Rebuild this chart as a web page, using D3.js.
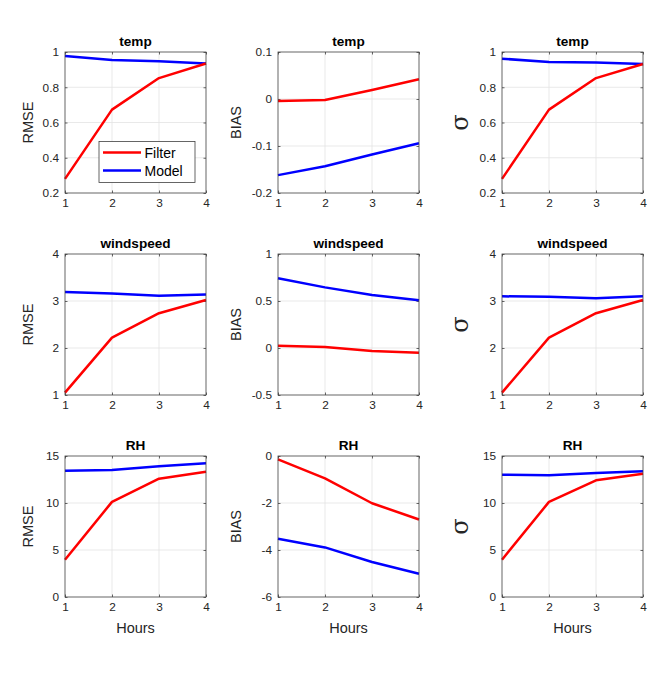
<!DOCTYPE html>
<html>
<head>
	<meta charset="utf-8">
	<title>Filter vs Model</title>
	<script src="https://cdn.jsdelivr.net/npm/d3@7"></script>
	<style>
		html, body { margin: 0; padding: 0; background: #fff; }
		svg { display: block; font-family: "Liberation Sans", Arial, Helvetica, sans-serif; }
		.tick text { fill: #262626; font-size: 11.8px; font-family: "Liberation Sans", Arial, Helvetica, sans-serif; }
		.domain { stroke: none; }
		.tick line { stroke: #404040; stroke-width: 0.8; }
	</style>
</head>
<body>
<svg id="chart" width="664" height="673"></svg>
<script>
	// ---- data ----
	var hours = [1, 2, 3, 4];
	var variables = ["temp", "windspeed", "RH"];
	var metrics = ["RMSE", "BIAS", "σ"];
	var seriesNames = ["Filter", "Model"];

	var tempRmseFilter = [0.28, 0.673, 0.852, 0.935];
	var tempRmseModel = [0.977, 0.955, 0.947, 0.935];
	var tempBiasFilter = [-0.004, -0.002, 0.019, 0.042];
	var tempBiasModel = [-0.162, -0.143, -0.118, -0.094];
	var tempSigmaFilter = [0.28, 0.673, 0.852, 0.932];
	var tempSigmaModel = [0.962, 0.943, 0.941, 0.932];

	var windRmseFilter = [1.05, 2.22, 2.74, 3.02];
	var windRmseModel = [3.19, 3.16, 3.11, 3.14];
	var windBiasFilter = [0.025, 0.011, -0.032, -0.05];
	var windBiasModel = [0.741, 0.645, 0.564, 0.507];
	var windSigmaFilter = [1.05, 2.22, 2.74, 3.02];
	var windSigmaModel = [3.10, 3.09, 3.06, 3.10];

	var rhRmseFilter = [3.97, 10.12, 12.59, 13.33];
	var rhRmseModel = [13.44, 13.51, 13.9, 14.22];
	var rhBiasFilter = [-0.14, -0.95, -2.01, -2.70];
	var rhBiasModel = [-3.52, -3.89, -4.51, -5.01];
	var rhSigmaFilter = [3.97, 10.12, 12.41, 13.12];
	var rhSigmaModel = [13.01, 12.94, 13.19, 13.37];

	var xTicks = [1, 2, 3, 4];
	var tempRmseTicks = [0.2, 0.4, 0.6, 0.8, 1];
	var tempBiasTicks = [-0.2, -0.1, 0, 0.1];
	var windRmseTicks = [1, 2, 3, 4];
	var windBiasTicks = [-0.5, 0, 0.5, 1];
	var rhRmseTicks = [0, 5, 10, 15];
	var rhBiasTicks = [-6, -4, -2, 0];

	// rows = variables, columns = metrics
	var panels = [
		[
			{ filter: tempRmseFilter, model: tempRmseModel, ticks: tempRmseTicks },
			{ filter: tempBiasFilter, model: tempBiasModel, ticks: tempBiasTicks },
			{ filter: tempSigmaFilter, model: tempSigmaModel, ticks: tempRmseTicks }
		],
		[
			{ filter: windRmseFilter, model: windRmseModel, ticks: windRmseTicks },
			{ filter: windBiasFilter, model: windBiasModel, ticks: windBiasTicks },
			{ filter: windSigmaFilter, model: windSigmaModel, ticks: windRmseTicks }
		],
		[
			{ filter: rhRmseFilter, model: rhRmseModel, ticks: rhRmseTicks },
			{ filter: rhBiasFilter, model: rhBiasModel, ticks: rhBiasTicks },
			{ filter: rhSigmaFilter, model: rhSigmaModel, ticks: rhRmseTicks }
		]
	];

	// ---- layout ----
	var colLeft = [65, 278, 502];
	var rowTop = [52, 254, 456];
	var w = 141, h = 141;
	var labelOffset = [37, 42, 41];
	var colors = { Filter: "#ff0000", Model: "#0000ff" };

	var svg = d3.select("#chart");
	var fmt = function(d) { return String(d); };

	panels.forEach(function(row, r) {
		row.forEach(function(p, c) {
			var g = svg.append("g").attr("transform", "translate(" + colLeft[c] + "," + rowTop[r] + ")");
			var x = d3.scaleLinear().domain([1, 4]).range([0, w]);
			var yt = p.ticks;
			var y = d3.scaleLinear().domain([yt[0], yt[yt.length - 1]]).range([h, 0]);

			// grid
			g.append("g").selectAll("line").data(xTicks.slice(1, -1)).join("line")
				.attr("x1", d => x(d)).attr("x2", d => x(d)).attr("y1", 0).attr("y2", h)
				.attr("stroke", "#e3e3e3").attr("stroke-width", 0.8);
			g.append("g").selectAll("line").data(yt.slice(1, -1)).join("line")
				.attr("y1", d => y(d)).attr("y2", d => y(d)).attr("x1", 0).attr("x2", w)
				.attr("stroke", "#e3e3e3").attr("stroke-width", 0.8);

			// axes with inward ticks on all four sides
			g.append("g").attr("transform", "translate(0," + h + ")")
				.call(d3.axisBottom(x).tickValues(xTicks).tickFormat(fmt).tickSize(-2.5).tickPadding(6));
			g.append("g")
				.call(d3.axisTop(x).tickValues(xTicks).tickFormat("").tickSize(-2.5));
			g.append("g")
				.call(d3.axisLeft(y).tickValues(yt).tickFormat(fmt).tickSize(-2.5).tickPadding(6));
			g.append("g").attr("transform", "translate(" + w + ",0)")
				.call(d3.axisRight(y).tickValues(yt).tickFormat("").tickSize(-2.5));

			// lines
			var line = d3.line().x((d, i) => x(hours[i])).y(d => y(d));
			[["Model", p.model], ["Filter", p.filter]].forEach(function(s) {
				g.append("path").datum(s[1])
					.attr("d", line)
					.attr("fill", "none")
					.attr("stroke", colors[s[0]])
					.attr("stroke-width", 2.5)
					.attr("stroke-linejoin", "round");
			});

			// box
			g.append("rect").attr("width", w).attr("height", h)
				.attr("fill", "none").attr("stroke", "#404040").attr("stroke-width", 0.8);

			// title
			g.append("text").attr("x", w / 2).attr("y", -6)
				.attr("text-anchor", "middle").attr("font-weight", "bold")
				.attr("font-size", "13.6px").attr("fill", "#000")
				.text(variables[r]);

			// y label
			var isSigma = c === 2;
			g.append("text")
				.attr("transform", "translate(" + (-labelOffset[c] + (isSigma ? 6.5 : 5.2)) + "," + (h / 2) + ") rotate(-90)")
				.attr("text-anchor", "middle")
				.attr("font-size", isSigma ? "24px" : "14.5px")
				.attr("font-family", isSigma ? "'DejaVu Serif', 'Liberation Serif', serif" : null)
				.attr("fill", "#262626")
				.text(metrics[c]);

			// x label on bottom row
			if (r === 2) {
				g.append("text").attr("x", w / 2).attr("y", h + 36)
					.attr("text-anchor", "middle").attr("font-size", "14.5px")
					.attr("fill", "#262626").text("Hours");
			}

			// legend in first panel
			if (r === 0 && c === 0) {
				var lg = g.append("g").attr("transform", "translate(34,89.5)");
				lg.append("rect").attr("width", 96).attr("height", 41)
					.attr("fill", "#fff").attr("stroke", "#404040").attr("stroke-width", 0.8);
				seriesNames.forEach(function(n, i) {
					lg.append("line").attr("x1", 4).attr("x2", 42)
						.attr("y1", 11 + i * 18).attr("y2", 11 + i * 18)
						.attr("stroke", colors[n]).attr("stroke-width", 2.5);
					lg.append("text").attr("x", 45.5).attr("y", 16 + i * 18)
						.attr("font-size", "14px").attr("fill", "#000").text(n);
				});
			}
		});
	});
</script>
</body>
</html>
